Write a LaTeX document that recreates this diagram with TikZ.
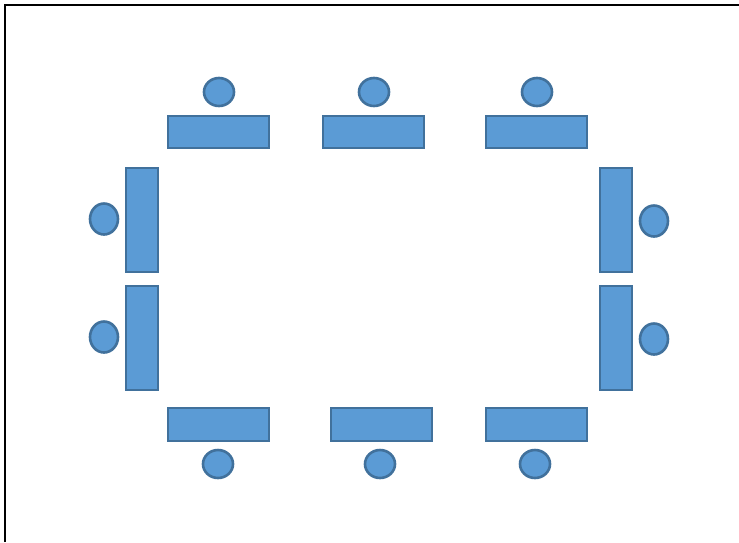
\documentclass[tikz,border=0pt]{standalone}
\begin{document}
\begin{tikzpicture}[x=1pt,y=-1pt,
  tbl/.style={draw=edgeblue,fill=fillblue,line width=2.6pt},
  seat/.style={draw=edgeblue,fill=fillblue,line width=2.6pt}]
\definecolor{fillblue}{HTML}{5B9BD5}
\definecolor{edgeblue}{HTML}{41719C}
\useasboundingbox (0,0) rectangle (739,542);
\draw[line width=1.3pt,black] (5,542) -- (5,5) -- (739,5);
% top tables
\draw[tbl] (168,116) rectangle (269,148);
\draw[tbl] (323,116) rectangle (424,148);
\draw[tbl] (486,116) rectangle (587,148);
\draw[seat] (219,92) ellipse [x radius=15, y radius=14];
\draw[seat] (374,92) ellipse [x radius=15, y radius=14];
\draw[seat] (537,92) ellipse [x radius=15, y radius=14];
% left
\draw[tbl] (126,168) rectangle (158,272);
\draw[tbl] (126,286) rectangle (158,390);
\draw[seat] (104,219) ellipse [x radius=14, y radius=15.5];
\draw[seat] (104,337) ellipse [x radius=14, y radius=15.5];
% right
\draw[tbl] (600,168) rectangle (632,272);
\draw[tbl] (600,286) rectangle (632,390);
\draw[seat] (654,221) ellipse [x radius=14, y radius=15.5];
\draw[seat] (654,339) ellipse [x radius=14, y radius=15.5];
% bottom
\draw[tbl] (168,408) rectangle (269,441);
\draw[tbl] (331,408) rectangle (432,441);
\draw[tbl] (486,408) rectangle (587,441);
\draw[seat] (218,464) ellipse [x radius=15, y radius=14];
\draw[seat] (380,464) ellipse [x radius=15, y radius=14];
\draw[seat] (535,464) ellipse [x radius=15, y radius=14];
\end{tikzpicture}
\end{document}
